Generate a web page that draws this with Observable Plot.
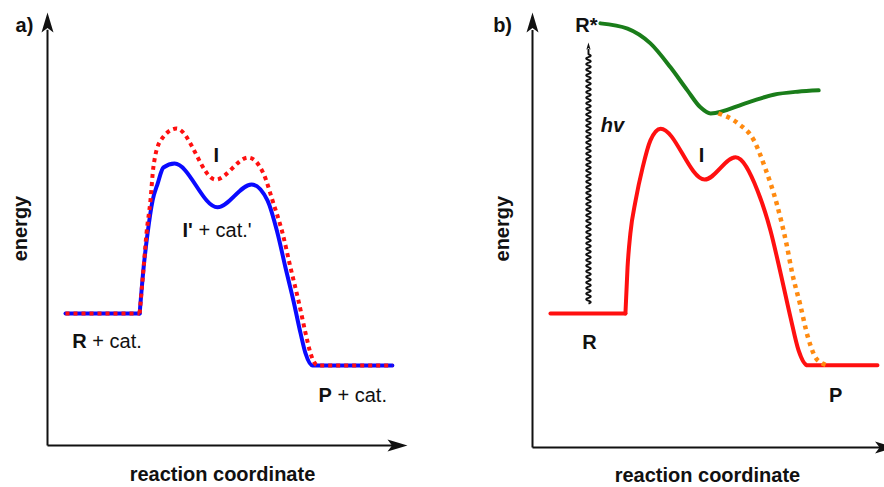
<!DOCTYPE html>
<html>
<head>
<meta charset="utf-8">
<script src="https://cdn.jsdelivr.net/npm/d3@7"></script>
<script src="https://cdn.jsdelivr.net/npm/@observablehq/plot@0.6"></script>
<style>
  html, body { margin: 0; padding: 0; background: white; overflow: hidden; }
  #wrap { display: flex; width: 884px; height: 487px; }
</style>
</head>
<body>
<div id="wrap"></div>
<script>
// ---------- Panel a) catalysed vs uncatalysed (energy in arbitrary units 0–100) ----------
const catX   = [5.0, 25.6, 26.7, 27.8, 29.2, 30.6, 32.2, 35.3, 47.2, 56.7, 61.1, 63.9, 66.1, 68.3, 70.3, 71.7, 73.6, 95.8];
const catE   = [30.5, 30.5, 41.1, 49.0, 56.6, 60.5, 64.2, 65.1, 55.0, 60.3, 56.6, 49.0, 41.1, 33.5, 25.9, 21.2, 18.5, 18.5];
const uncatX = [5.0, 25.6, 26.7, 27.5, 28.6, 29.4, 31.4, 35.8, 46.7, 55.8, 60.0, 62.5, 65.3, 67.5, 69.7, 71.7, 73.1, 75.0, 95.8];
const uncatE = [30.5, 30.5, 41.1, 49.0, 56.6, 64.2, 70.4, 73.2, 61.4, 66.5, 62.8, 56.6, 49.0, 41.1, 33.5, 25.9, 21.2, 18.5, 18.5];

// ---------- Panel b) photochemical ----------
const groundX  = [5.1, 26.4, 27.0, 27.8, 29.3, 31.3, 33.5, 36.4, 48.9, 57.7, 63.9, 67.6, 70.5, 73.3, 75.6, 78.1, 98.0];
const groundE  = [30.8, 30.8, 41.4, 49.2, 56.8, 64.4, 70.6, 73.3, 61.6, 66.7, 59.1, 49.9, 40.0, 29.9, 22.3, 18.9, 18.9];
const excitedX = [19.3, 27.0, 33.5, 39.2, 44.0, 47.7, 50.6, 61.1, 68.5, 75.3, 81.3];
const excitedE = [97.5, 96.3, 92.9, 87.4, 82.1, 78.2, 76.8, 79.3, 81.1, 81.8, 82.1];
const decayX   = [52.8, 58.4, 62.9, 66.2, 69.4, 72.2, 73.8, 76.0, 78.2, 80.2, 82.4, 83.6];
const decayE   = [76.8, 74.5, 70.6, 64.0, 56.0, 46.6, 40.0, 33.0, 25.5, 21.0, 19.3, 18.9];
const photon   = {x: 15.9, from: 33.1, to: 93.1};

// labels
const labelsA = [
  {x: 46.9, y: 67.0, bold: "I", rest: ""},
  {x: 37.5, y: 49.7, bold: "I'", rest: "\u00a0+ cat.'"},
  {x: 6.9,  y: 24.0, bold: "R", rest: "\u00a0+ cat."},
  {x: 75.3, y: 11.5, bold: "P", rest: "\u00a0+ cat."}
];
const labelsB = [
  {x: 15.3, y: 97.0, text: "R*"},
  {x: 48.0, y: 67.1, text: "I"},
  {x: 16.2, y: 24.1, text: "R"},
  {x: 86.1, y: 12.0, text: "P"}
];
const panelTags = ["a)", "b)"];
const yTitle = "energy";
const xTitle = "reaction coordinate";

const FONT = "'Liberation Sans', Arial, Helvetica, sans-serif";
const pts = (xs, ys) => xs.map((x, i) => ({x, y: ys[i]}));

// arrowhead symbols (tip at origin)
const stealthUp = {draw(ctx, size) { const s = Math.sqrt(size / Math.PI);
  ctx.moveTo(0, 0); ctx.lineTo(0.6 * s, 2 * s); ctx.lineTo(0, 1.55 * s); ctx.lineTo(-0.6 * s, 2 * s); ctx.closePath(); }};
const stealthRight = {draw(ctx, size) { const s = Math.sqrt(size / Math.PI);
  ctx.moveTo(0, 0); ctx.lineTo(-2 * s, 0.6 * s); ctx.lineTo(-1.55 * s, 0); ctx.lineTo(-2 * s, -0.6 * s); ctx.closePath(); }};

// wavy (photon) curve: a rendering style for a link
function wavyCurve(context) {
  let p = [];
  return {
    areaStart() {}, areaEnd() {},
    lineStart() { p = []; },
    point(x, y) { p.push([+x, +y]); },
    lineEnd() {
      const [x0, y0] = p[0], [x1, y1] = p[p.length - 1];
      const dx = x1 - x0, dy = y1 - y0, len = Math.hypot(dx, dy);
      const ux = dx / len, uy = dy / len, nx = -uy, ny = ux;
      const wl = 5.6, amp = 2.3, straight = 5;
      context.moveTo(x0, y0);
      for (let s = 0; s <= len - straight; s += 0.4) {
        const a = amp * Math.sin(2 * Math.PI * s / wl);
        context.lineTo(x0 + ux * s + nx * a, y0 + uy * s + ny * a);
      }
      context.lineTo(x1, y1);
    }
  };
}

function axesMarks(xTip) {
  return [
    Plot.link([{x1: 0, y1: 0, x2: 0, y2: 96}], {x1: "x1", y1: "y1", x2: "x2", y2: "y2", stroke: "#111", strokeWidth: 2}),
    Plot.link([{x1: 0, y1: 0, x2: xTip - 3, y2: 0}], {x1: "x1", y1: "y1", x2: "x2", y2: "y2", stroke: "#111", strokeWidth: 2}),
    Plot.dot([{x: 0, y: 100}], {x: "x", y: "y", symbol: stealthUp, r: 10, fill: "#111", stroke: "none"}),
    Plot.dot([{x: xTip, y: 0}], {x: "x", y: "y", symbol: stealthRight, r: 10, fill: "#111", stroke: "none"})
  ];
}

function curve(xs, ys, opts) {
  const data = pts(xs, ys);
  return [
    Plot.line(data.slice(0, 2), {x: "x", y: "y", curve: "linear", ...opts}),
    Plot.line(data.slice(1), {x: "x", y: "y", curve: "monotone-x", ...opts})
  ];
}

const FS = 20;
const boldWidth = {"I'": 0.516 * FS, "R": 0.722 * FS, "P": 0.667 * FS};

const common = {
  width: 442, height: 487,
  x: {domain: [0, 100], axis: null},
  y: {domain: [0, 100], axis: null},
  style: {fontFamily: FONT, fontSize: FS + "px", background: "white", color: "#111", overflow: "visible"}
};

const mixed = labelsA.filter(d => d.rest);

const plotA = Plot.plot({
  ...common,
  marginLeft: 47, marginRight: 35, marginTop: 12, marginBottom: 42,
  marks: [
    ...axesMarks(100),
    ...curve(catX, catE, {stroke: "#0a0aff", strokeWidth: 4, strokeLinejoin: "round"}),
    ...curve(uncatX, uncatE, {stroke: "#ff1010", strokeWidth: 4, strokeDasharray: "4,4", strokeLinecap: "butt"}),
    Plot.text(labelsA.filter(d => !d.rest), {x: "x", y: "y", text: "bold", fontWeight: "bold", fill: "#111"}),
    Plot.text(mixed, {x: "x", y: "y", text: "bold", textAnchor: "start", fontWeight: "bold", fill: "#111"}),
    Plot.text(mixed, {x: "x", y: "y", text: "rest", textAnchor: "start", fill: "#111",
      render(index, scales, values, dims, ctx, next) {
        const g = next(index, scales, values, dims, ctx);
        d3.select(g).selectAll("text").each(function(_, i) {
          const w = boldWidth[mixed[index[i]].bold] || 0;
          const t = d3.select(this).attr("transform") || "";
          d3.select(this).attr("transform", t + ` translate(${w},0)`);
        });
        return g;
      }}),
    Plot.text([panelTags[0]], {x: -6.4, y: 97.0, text: d => d, fontWeight: "bold", fill: "#111"}),
    Plot.text([yTitle], {x: -7.5, y: 50.1, text: d => d, rotate: -90, fontWeight: "bold", fill: "#111"}),
    Plot.text([xTitle], {x: 48.6, y: -6.8, text: d => d, fontWeight: "bold", fill: "#111"})
  ]
});

const plotB = Plot.plot({
  ...common,
  marginLeft: 90, marginRight: 0, marginTop: 12, marginBottom: 40,
  marks: [
    ...axesMarks(103),
    Plot.link([photon], {x1: "x", x2: "x", y1: "from", y2: d => d.to - 1.5, stroke: "#111", strokeWidth: 1.9, curve: wavyCurve}),
    Plot.dot([photon], {x: "x", y: "to", symbol: stealthUp, r: 3.6, fill: "#111", stroke: "none"}),
    ...curve(groundX, groundE, {stroke: "#ff1010", strokeWidth: 4, strokeLinejoin: "round"}),
    Plot.line(pts(excitedX, excitedE), {x: "x", y: "y", curve: "monotone-x", stroke: "#1a7d1a", strokeWidth: 4}),
    Plot.line(pts(decayX, decayE), {x: "x", y: "y", curve: "monotone-x", stroke: "#ff8a10", strokeWidth: 4.5, strokeDasharray: "4,4.5", strokeLinecap: "butt"}),
    Plot.text(labelsB, {x: "x", y: "y", text: "text", fontWeight: "bold", fill: "#111"}),
    Plot.text(["hv"], {x: 22.7, y: 74.0, text: d => d, fontWeight: "bold", fontStyle: "italic", fill: "#111"}),
    Plot.text([panelTags[1]], {x: -8.5, y: 97.0, text: d => d, fontWeight: "bold", fill: "#111"}),
    Plot.text([yTitle], {x: -8.5, y: 50.3, text: d => d, rotate: -90, fontWeight: "bold", fill: "#111"}),
    Plot.text([xTitle], {x: 49.7, y: -6.5, text: d => d, fontWeight: "bold", fill: "#111"})
  ]
});

document.getElementById("wrap").append(plotA, plotB);
</script>
</body>
</html>
